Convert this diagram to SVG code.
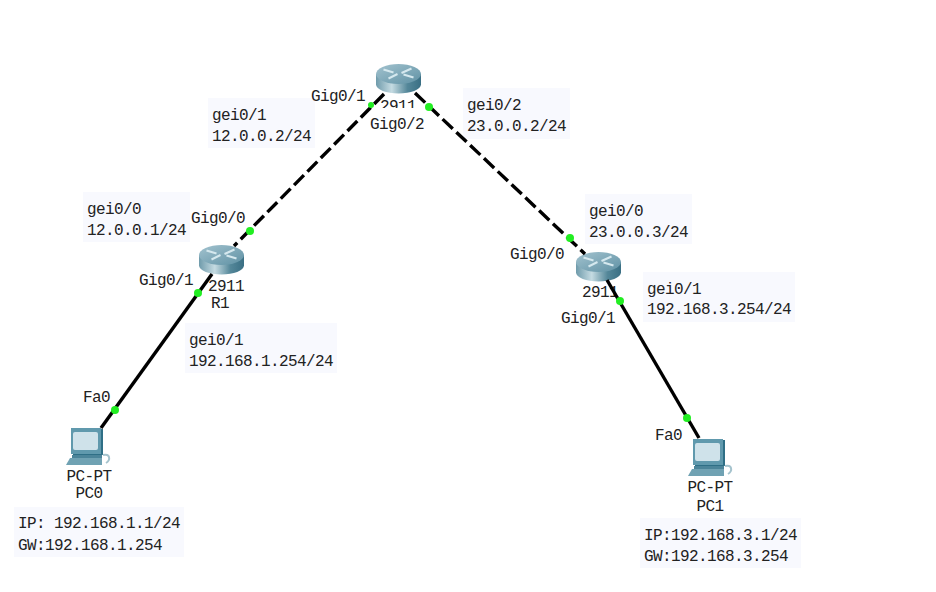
<svg xmlns="http://www.w3.org/2000/svg" width="936" height="592" viewBox="0 0 936 592">
<style>
text{font-family:"Liberation Mono","DejaVu Sans Mono",monospace;font-size:16px;letter-spacing:-.6px;fill:#222}
.note{fill:#f8f9fe}
.solid{stroke:#000;stroke-width:3.4;fill:none}
.dash{stroke:#000;stroke-width:3.4;fill:none;stroke-dasharray:14 5}
.dot{fill:#22ee22}
.m{text-anchor:middle}
</style>
<defs>
<linearGradient id="rs" x1="0" x2="1" y1="0" y2="0"><stop offset="0" stop-color="#6f9bab"/><stop offset=".35" stop-color="#c5dbe2"/><stop offset=".7" stop-color="#548799"/><stop offset="1" stop-color="#3a6f84"/></linearGradient>
<linearGradient id="rt" x1="0" x2="1" y1="0" y2="1"><stop offset="0" stop-color="#a3c3cf"/><stop offset="1" stop-color="#5f91a4"/></linearGradient>
<g id="router">
<path d="M-22.500-6.500V4C-22.500 9-12 13 0 13S22.500 9 22.500 4V-6.500Z" fill="url(#rs)"/>
<ellipse cx="0" cy="-6.500" rx="22.500" ry="10" fill="url(#rt)"/>
<path d="M-15-11-5-8M13-12 3-7.500M-10-2-1-6.500M15-3 5-6" stroke="#d5e8ee" stroke-width="2" fill="none"/>
</g>
<g id="pc">
<path d="M-13-19H17V7H-13Z" fill="#2f6f86"/>
<path d="M-15-20H15V6H-15Z" fill="#6099ad"/>
<rect x="-13" y="-16" width="25" height="18" rx="2" fill="#cfe2ea"/>
<path d="M-14 7H16V10H-14Z" fill="#4b8499"/>
<path d="M-16 10H16V17H-20Z" fill="#70a2b3"/>
<path d="M17 7C24 5 25 12 20 15" stroke="#a5c3cd" stroke-width="2" fill="none"/>
</g>
</defs>
<rect width="936" height="592" fill="#fff"/>
<g id="note-r0-left"><rect class="note" x="208" y="98" width="107" height="50"/><text x="212" y="120">gei0/1</text><text x="212" y="141">12.0.0.2/24</text></g>
<g id="note-r0-right"><rect class="note" x="463" y="88" width="107" height="51"/><text x="467" y="110">gei0/2</text><text x="467" y="131">23.0.0.2/24</text></g>
<g id="note-r1-up"><rect class="note" x="83" y="192" width="107" height="50"/><text x="87" y="214">gei0/0</text><text x="87" y="235">12.0.0.1/24</text></g>
<g id="note-r1-down"><rect class="note" x="185" y="323" width="152" height="50"/><text x="189" y="345">gei0/1</text><text x="189" y="366">192.168.1.254/24</text></g>
<g id="note-r2-up"><rect class="note" x="585" y="194" width="107" height="50"/><text x="589" y="216">gei0/0</text><text x="589" y="237">23.0.0.3/24</text></g>
<g id="note-r2-down"><rect class="note" x="643" y="272" width="152" height="50"/><text x="647" y="294">gei0/1</text><text x="647" y="314">192.168.3.254/24</text></g>
<g id="note-pc0"><rect class="note" x="14" y="507" width="170" height="50"/><text x="18" y="528">IP: 192.168.1.1/24</text><text x="18" y="550">GW:192.168.1.254</text></g>
<g id="note-pc1"><rect class="note" x="640" y="518" width="161" height="50"/><text x="644" y="540">IP:192.168.3.1/24</text><text x="644" y="561">GW:192.168.3.254</text></g>
<g id="router0"><use href="#router" x="398.500" y="80.500"/><text class="m" x="398" y="111">2911</text><rect x="367" y="108" width="60" height="25" fill="#fff"/><text x="311" y="101">Gig0/1</text><text x="370" y="129">Gig0/2</text></g>
<g id="R1"><use href="#router" x="221.500" y="261.500"/><text class="m" x="226" y="291">2911</text><text class="m" x="220" y="308">R1</text><text x="191" y="223">Gig0/0</text><text x="139" y="285">Gig0/1</text></g>
<g id="router2"><use href="#router" x="598.500" y="268.500"/><text class="m" x="600" y="297">2911</text><text x="510" y="259">Gig0/0</text><text x="561" y="323">Gig0/1</text></g>
<g id="PC0"><use href="#pc" x="86" y="448"/><text class="m" x="89" y="481">PC-PT</text><text class="m" x="89" y="498">PC0</text><text x="83" y="402">Fa0</text></g>
<g id="PC1"><use href="#pc" x="708" y="459"/><text class="m" x="710" y="492">PC-PT</text><text class="m" x="710" y="511">PC1</text><text x="655" y="440">Fa0</text></g>
<g id="connectors">
<path class="dash" d="M384 94 234 246"/>
<path class="dash" d="M415 93 585 254"/>
<path class="solid" d="M212 274 101 428"/>
<path class="solid" d="M607 280 699 438"/>
<circle class="dot" cx="371" cy="105" r="3"/>
<circle class="dot" cx="429" cy="107" r="4"/>
<circle class="dot" cx="250" cy="231" r="4"/>
<circle class="dot" cx="198" cy="293" r="4"/>
<circle class="dot" cx="115" cy="410" r="4"/>
<circle class="dot" cx="570" cy="238" r="4"/>
<circle class="dot" cx="620" cy="301" r="4"/>
<circle class="dot" cx="687" cy="418" r="4"/>
</g>
</svg>
